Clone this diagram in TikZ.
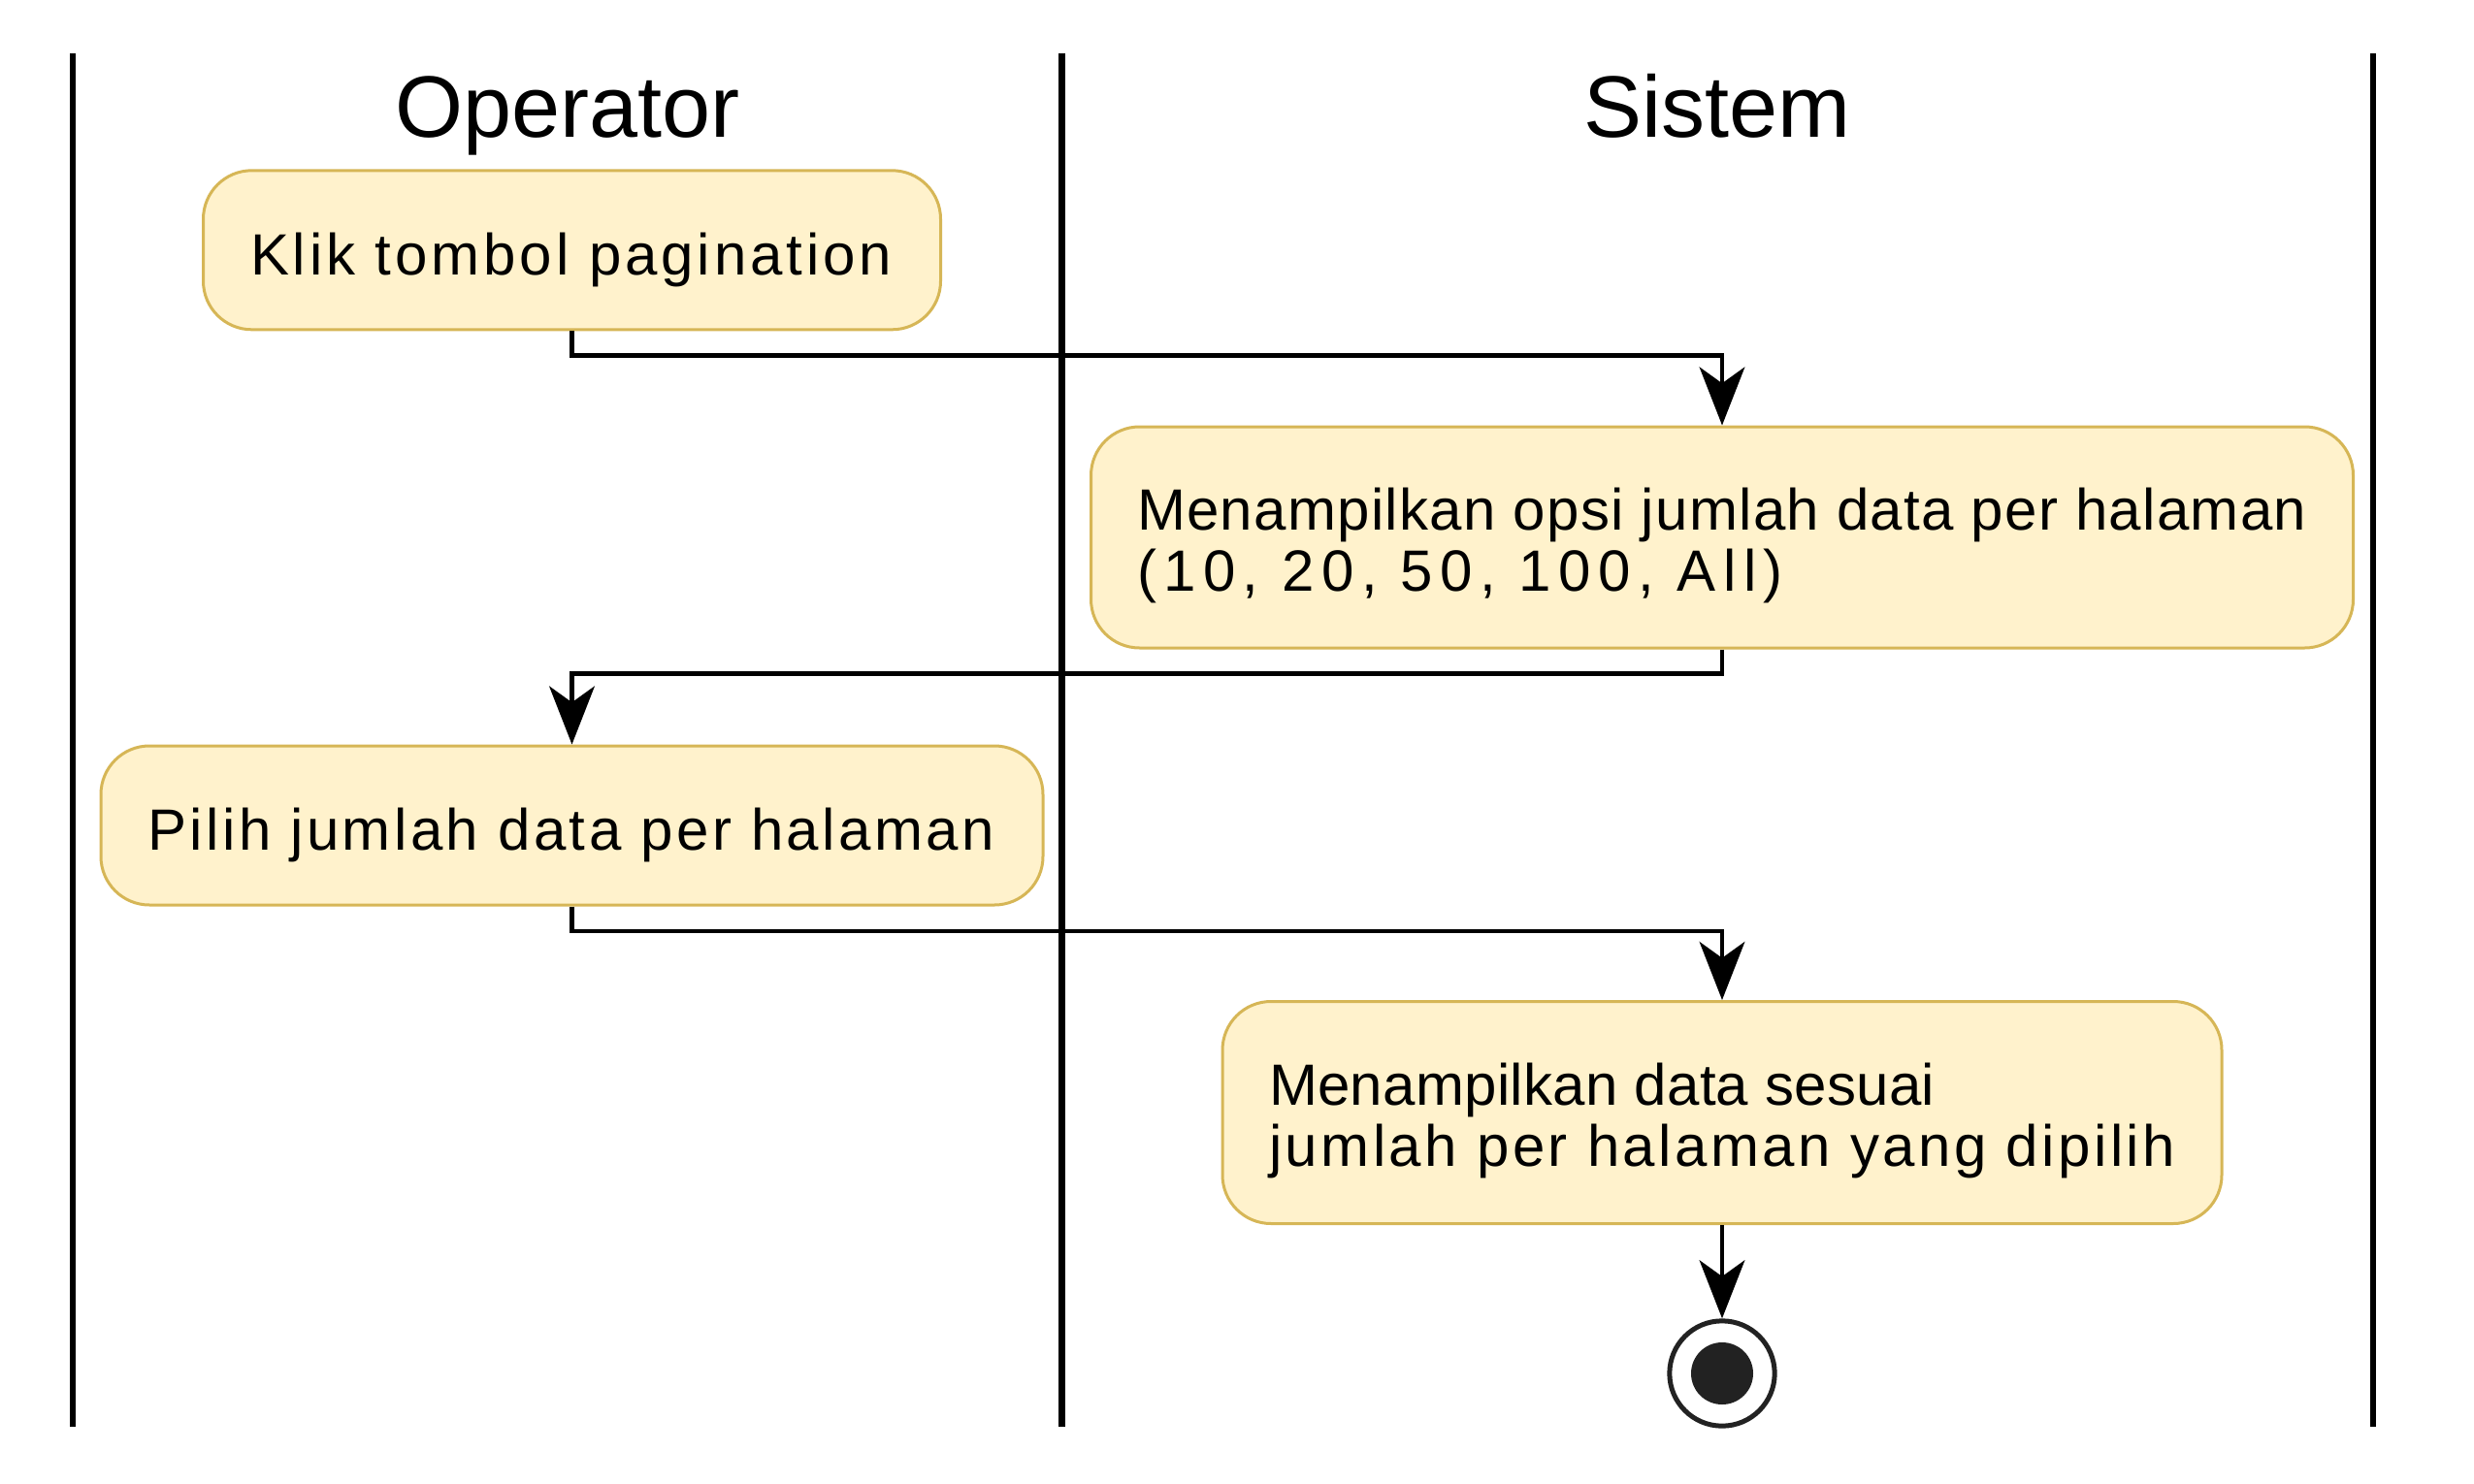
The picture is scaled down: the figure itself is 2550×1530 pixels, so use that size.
\documentclass[tikz,border=0pt]{standalone}
\usepackage{fontspec}
\setmainfont{Liberation Sans}
\usetikzlibrary{arrows.meta}
\definecolor{actfill}{HTML}{FFF2CC}
\definecolor{actline}{HTML}{D6B656}
\definecolor{endcol}{HTML}{222222}
\newcommand{\ls}[1]{\addfontfeature{LetterSpace=#1}}
\tikzset{
  lane/.style={line width=1.95pt, black},
  actbox/.style={draw=actline, fill=actfill, line width=0.9pt, rounded corners=15pt, inner sep=0pt, rectangle},
  txt/.style={inner sep=0pt, outer sep=0pt, font=\fontsize{18pt}{18pt}\selectfont},
  head/.style={inner sep=0pt, outer sep=0pt, font=\fontsize{27pt}{27pt}\selectfont, anchor=base},
  flow/.style={line width=1.35pt, black, -{Stealth[length=18pt, width=14pt, inset=5pt]}},
}
\begin{document}
\begin{tikzpicture}[x=0.3pt, y=-0.3pt]
\useasboundingbox (0,0) rectangle (2550,1530);
% swimlane borders
\coordinate (l1t) at (74.8,55); \coordinate (l1b) at (74.8,1471);
\coordinate (l2t) at (1094.5,55); \coordinate (l2b) at (1094.5,1471);
\coordinate (l3t) at (2446,55); \coordinate (l3b) at (2446,1471);
\draw[lane] (l1t) -- (l1b);
\draw[lane] (l2t) -- (l2b);
\draw[lane] (l3t) -- (l3b);
% headings
\node[head] (hop) at (584.6,141.5) {Operator};
\node[head] (hsy) at (1770,141.5) {Sistem};
% activity boxes
\node[actbox, minimum width=228pt, minimum height=49.2pt] (b1) at (589.5,257.8) {};
\node[actbox, minimum width=390.3pt, minimum height=68.4pt] (b2) at (1775,554) {};
\node[actbox, minimum width=291.3pt, minimum height=49.2pt] (b3) at (589.5,851) {};
\node[actbox, minimum width=309pt, minimum height=68.7pt] (b4) at (1775,1147) {};
% texts
\node[txt, anchor=base west] (t1) at (258,283) {\ls{6.5}Klik tombol pagination};
\node[txt, anchor=base west] (t2a) at (1172,546.4) {\ls{2.2}Menampilkan opsi jumlah data per halaman};
\node[txt, anchor=base west] (t2b) at (1172,609.8) {\ls{12.3}(10, 20, 50, 100, All)};
\node[txt, anchor=base west] (t3) at (152.4,876) {\ls{5.7}Pilih jumlah data per halaman};
\node[txt, anchor=base west] (t4a) at (1308,1139.7) {\ls{0.5}Menampilkan data sesuai};
\node[txt, anchor=base west] (t4b) at (1308,1202.6) {\ls{5.8}jumlah per halaman yang dipilih};
% end node
\node[circle, draw=endcol, line width=1.5pt, fill=white, minimum size=32.5pt, inner sep=0pt] (end) at (1775,1416) {};
\node[circle, fill=endcol, minimum size=19.2pt, inner sep=0pt] (endin) at (end.center) {};
% flows
\draw[flow] (b1.south) -- ++(0,25) -| (b2.north);
\draw[flow] (b2.south) -- ++(0,25) -| (b3.north);
\draw[flow] (b3.south) -- ++(0,25.7) -| (b4.north);
\draw[flow] (b4.south) -- (end.north);
\end{tikzpicture}
\end{document}
